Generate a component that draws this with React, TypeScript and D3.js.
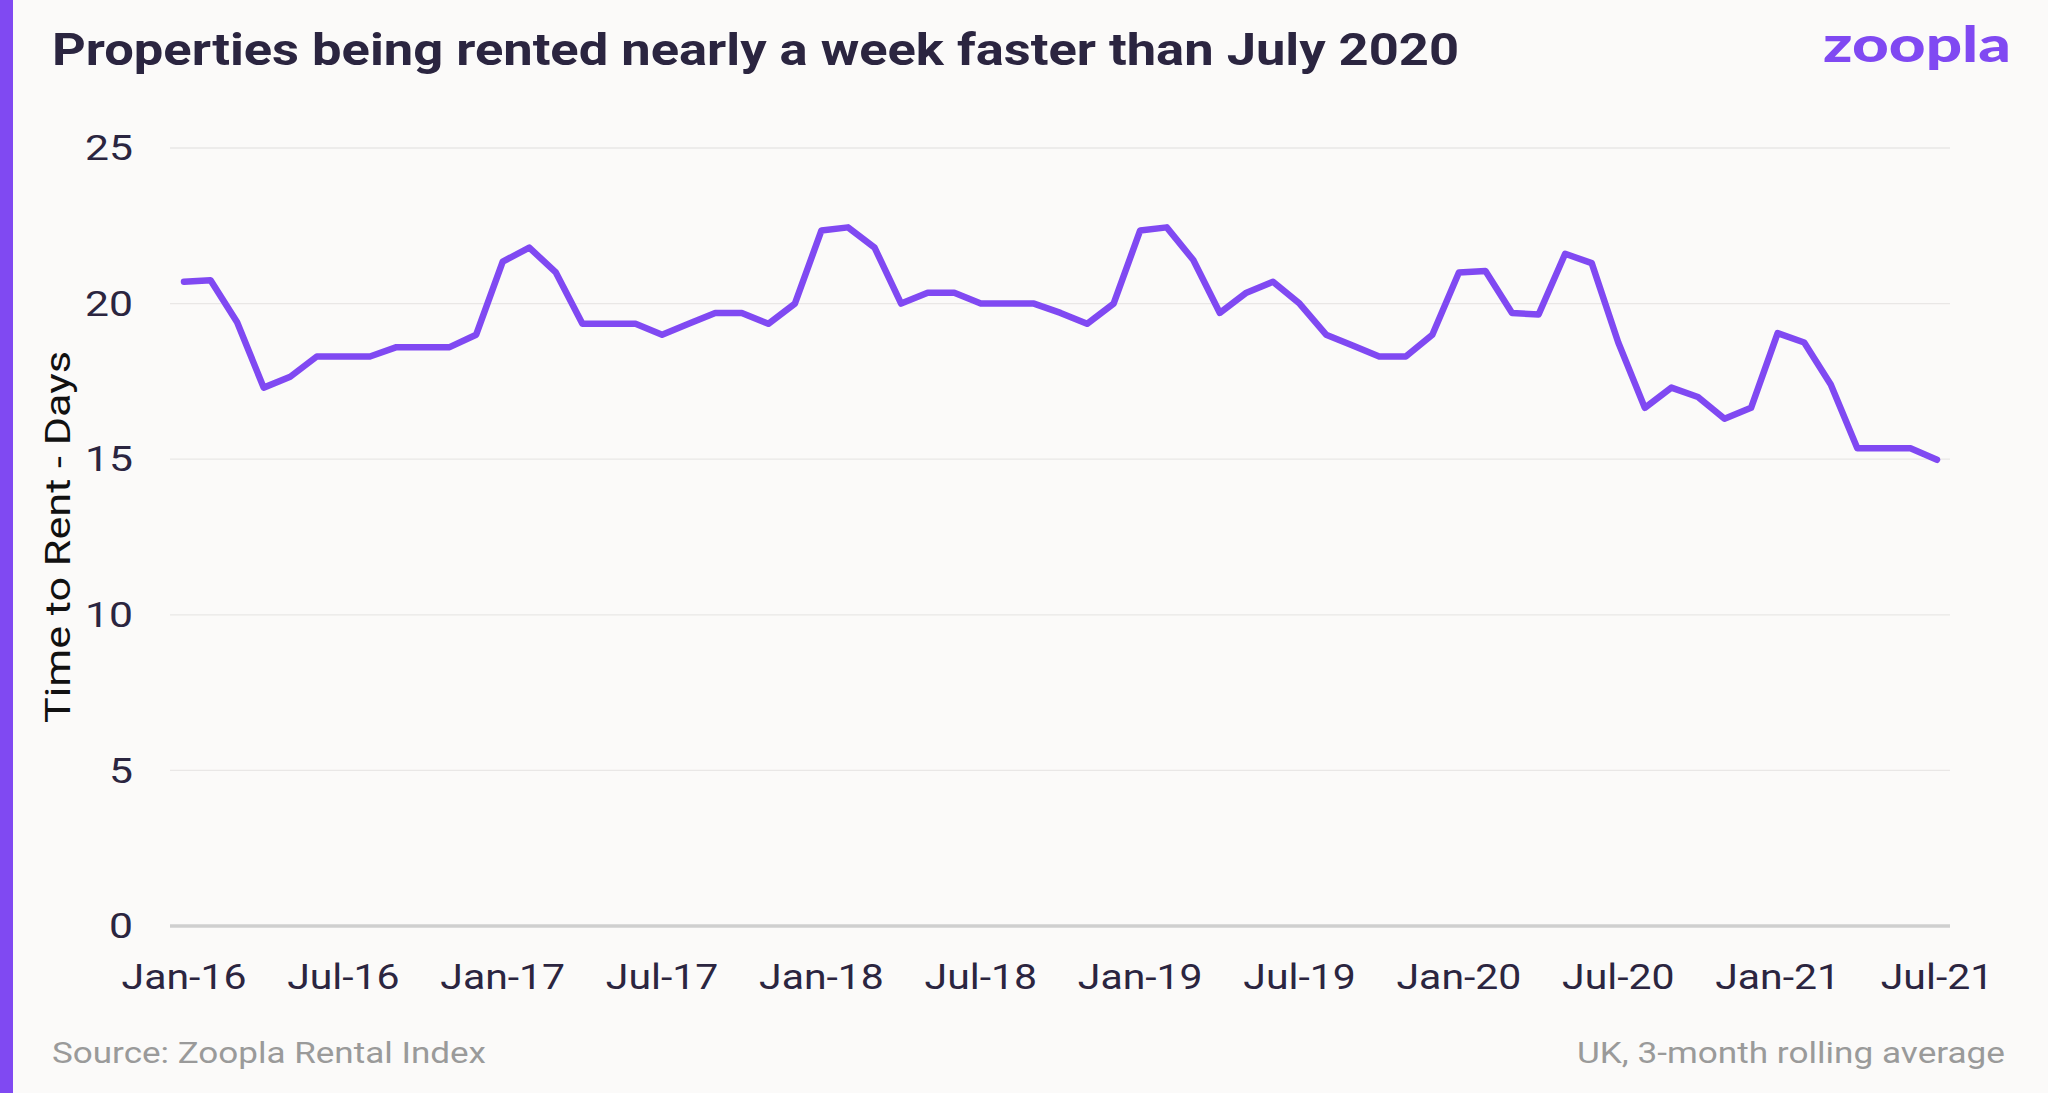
import * as d3 from 'd3'
import React from 'react'

// monthly, Jan-16 .. Jul-21 (UK, 3-month rolling average)
const months = d3.timeMonth.range(new Date(2016, 0, 1), new Date(2021, 7, 1))
const daysToRent = [
  20.7, 20.75, 19.4, 17.3, 17.65, 18.3, 18.3, 18.3, 18.6, 18.6, 18.6, 19.0,
  21.35, 21.8, 21.0, 19.35, 19.35, 19.35, 19.0, 19.35, 19.7, 19.7, 19.35, 20.0,
  22.35, 22.45, 21.8, 20.0, 20.35, 20.35, 20.0, 20.0, 20.0, 19.7, 19.35, 20.0,
  22.35, 22.45, 21.4, 19.7, 20.35, 20.7, 20.0, 19.0, 18.65, 18.3, 18.3, 19.0,
  21.0, 21.05, 19.7, 19.65, 21.6, 21.3, 18.75, 16.65, 17.3, 17.0, 16.3, 16.65,
  19.05, 18.75, 17.4, 15.35, 15.35, 15.35, 14.98,
]
const yTicks = [0, 5, 10, 15, 20, 25]
const xTickEvery = 6

const title = 'Properties being rented nearly a week faster than July 2020'
const yLabel = 'Time to Rent - Days'
const sourceNote = 'Source: Zoopla Rental Index'
const scopeNote = 'UK, 3-month rolling average'

const W = 2048
const H = 1093
const purple = '#8049f2'
const ink = '#2b2540'
const font = 'Roboto, "Noto Sans", sans-serif'
// the original face is wider than Roboto, so stretch text horizontally
const stretch = 1.17

const App = () => {
  const x = d3.scalePoint<number>()
    .domain(months.map((_, i) => i))
    .range([184, 1937])

  const y = d3.scaleLinear()
    .domain([0, 25])
    .range([926, 148])

  const line = d3.line<number>()
    .x((_, i) => x(i) as number)
    .y(d => y(d))

  const fmt = d3.timeFormat('%b-%y')

  return (
    <svg width={W} height={H} style={{ position: 'absolute', left: 0, top: 0, background: '#fbfaf9' }}>
      <rect x={0} y={0} width={W} height={H} fill='#fbfaf9' />
      <rect x={0} y={0} width={13} height={H} fill={purple} />

      <text x={52} y={65} fontFamily={font} fontWeight={700} fontSize={44} fill={ink}
        textLength={1407} lengthAdjust='spacingAndGlyphs'>{title}</text>
      <text x={2011} y={62} textAnchor='end' fontFamily='Lato, sans-serif' fontWeight={900}
        fontSize={50} fill={purple} textLength={188} lengthAdjust='spacingAndGlyphs'>zoopla</text>

      {yTicks.map(t => (
        <g key={t}>
          <line x1={170} x2={1950} y1={y(t)} y2={y(t)}
            stroke={t === 0 ? '#cfcfcf' : '#e9e7e6'} strokeWidth={t === 0 ? 3.5 : 1.3} />
          <text transform={`translate(133,${y(t)}) scale(1.22,1)`} dy='0.35em' textAnchor='end'
            fontFamily={font} fontSize={35} fill={ink}>{t}</text>
        </g>
      ))}

      {months.map((m, i) => i % xTickEvery === 0 ? (
        <text key={i} transform={`translate(${x(i)},989) scale(${stretch},1)`} textAnchor='middle'
          fontFamily={font} fontSize={35} fill={ink}>{fmt(m)}</text>
      ) : null)}

      <text transform={`translate(70,537) rotate(-90)`} textAnchor='middle' fontFamily={font}
        fontSize={35} fill='#111' textLength={372} lengthAdjust='spacingAndGlyphs'>{yLabel}</text>

      <path d={line(daysToRent) ?? ''} fill='none' stroke={purple} strokeWidth={6.5}
        strokeLinejoin='round' strokeLinecap='round' />

      <text x={52} y={1063} fontFamily={font} fontSize={30} fill='#9a9a9a'
        textLength={434} lengthAdjust='spacingAndGlyphs'>{sourceNote}</text>
      <text x={2005} y={1063} textAnchor='end' fontFamily={font} fontSize={30} fill='#9a9a9a'
        textLength={428} lengthAdjust='spacingAndGlyphs'>{scopeNote}</text>
    </svg>
  )
}

export default App
